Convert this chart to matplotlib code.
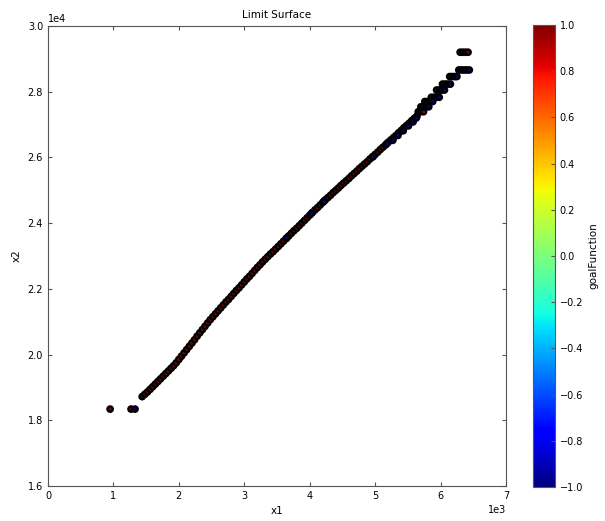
import matplotlib
matplotlib.use('Agg')
import matplotlib.pyplot as plt
import numpy as np

# points along the limit surface (x1, x2) and their goal function value
x1 = [950, 1270, 1440, 1480, 1520, 1560, 1600, 1640, 1680, 1720, 1760, 1800, 1840, 1880, 1920,
      1960, 2000, 2040, 2080, 2120, 2160, 2200, 2240, 2280, 2320, 2360, 2400, 2440,
      2480, 2520, 2560, 2600, 2640, 2680, 2720, 2760, 2800, 2840, 2880, 2920, 2960,
      3000, 3040, 3080, 3120, 3160, 3200, 3240, 3280, 3320, 3360, 3400, 3440, 3480,
      3520, 3560, 3600, 3640, 3680, 3720, 3760, 3800, 3840, 3880, 3920, 3960, 4000,
      4040, 4080, 4120, 4160, 4200, 4240, 4280, 4320, 4360, 4400, 4440, 4480, 4520,
      4560, 4600, 4640, 4680, 4720, 4760, 4800, 4840, 4880, 4920, 4960, 5000, 5040,
      5080, 5120, 5160, 5200, 5240, 5280, 5320, 5360, 5400, 5440, 5480, 5520, 5560,
      5600, 5640,
      5660, 5700, 5740,
      5700, 5740,
      5760, 5800,
      5860, 5900,
      5940, 5980,
      6030, 6070,
      6140, 6180,
      6300, 6340, 6380, 6420]
x2 = [18340, 18340, 18720, 18790, 18860, 18940, 19020, 19100, 19180, 19260, 19340, 19420, 19500, 19580, 19660,
      19750, 19850, 19950, 20050, 20150, 20250, 20350, 20450, 20560, 20660, 20760, 20860, 20960,
      21060, 21150, 21240, 21330, 21420, 21510, 21600, 21680, 21770, 21860, 21950, 22030, 22120,
      22210, 22300, 22380, 22470, 22560, 22650, 22730, 22820, 22900, 22980, 23060, 23130, 23210,
      23290, 23370, 23450, 23530, 23610, 23690, 23770, 23840, 23920, 24000, 24080, 24160, 24240,
      24320, 24400, 24470, 24550, 24630, 24710, 24780, 24850, 24930, 25000, 25070, 25150, 25220,
      25290, 25360, 25440, 25510, 25580, 25660, 25730, 25800, 25870, 25950, 26020, 26090, 26160,
      26240, 26310, 26380, 26460, 26530, 26600, 26670, 26750, 26820, 26900, 26970, 27040, 27120,
      27190, 27260,
      27390, 27390, 27390,
      27540, 27540,
      27700, 27700,
      27830, 27830,
      28050, 28050,
      28230, 28230,
      28460, 28460,
      29200, 29200, 29200, 29200]
goal = [1.0] * len(x1)

# failure points (goal = -1), drawn last
x1_fail = [1330, 3650, 4030, 4220, 4970, 5180, 5270, 5350, 5430, 5510, 5580, 5630,
           5780, 5820, 5840, 5880, 5940, 5980, 6020, 6060, 6110, 6150, 6220, 6250,
           6280, 6320, 6360, 6400, 6440]
x2_fail = [18340, 23550, 24300, 24670, 26020, 26420, 26520, 26670, 26810, 26960, 27080, 27200,
           27540, 27540, 27700, 27700, 27830, 27830, 28050, 28050, 28230, 28230, 28460, 28460,
           28660, 28660, 28660, 28660, 28660]
goal_fail = [-1.0] * len(x1_fail)

xs = np.array(x1 + x1_fail)
ys = np.array(x2 + x2_fail)
gs = np.array(goal + goal_fail)

plt.rcParams['font.family'] = 'DejaVu Sans'
fig = plt.figure(figsize=(6.05, 5.21), dpi=100)
ax = fig.add_axes([0.0793, 0.0672, 0.757, 0.883])
cax = fig.add_axes([0.881, 0.0652, 0.036, 0.887])

sc = ax.scatter(xs, ys, c=gs, cmap='jet', vmin=-1, vmax=1, s=15,
                edgecolors='black', linewidths=1.7)
ax.set_xlim(0, 7000)
ax.set_ylim(16000, 30000)
ax.set_xticks(np.arange(0, 7001, 1000))
ax.set_yticks(np.arange(16000, 30001, 2000))
ax.ticklabel_format(style='sci', scilimits=(-3, 3))
ax.xaxis.get_offset_text().set_fontsize(7)
ax.yaxis.get_offset_text().set_fontsize(7)
ax.tick_params(direction='in', top=True, right=True, labelsize=7, length=3, color='#555555')
for sp in ax.spines.values():
    sp.set_color('#555555')
ax.set_title('Limit Surface', fontsize=7.5)
ax.set_xlabel('x1', fontsize=7.5)
ax.set_ylabel('x2', fontsize=7.5)

cb = fig.colorbar(sc, cax=cax)
cb.set_ticks(np.arange(-1.0, 1.01, 0.2))
cb.ax.tick_params(direction='in', labelsize=7, length=3, color='#555555')
cb.outline.set_edgecolor('#555555')
cb.set_label('goalFunction', fontsize=7.5)

fig.savefig('out.png', dpi=100)
